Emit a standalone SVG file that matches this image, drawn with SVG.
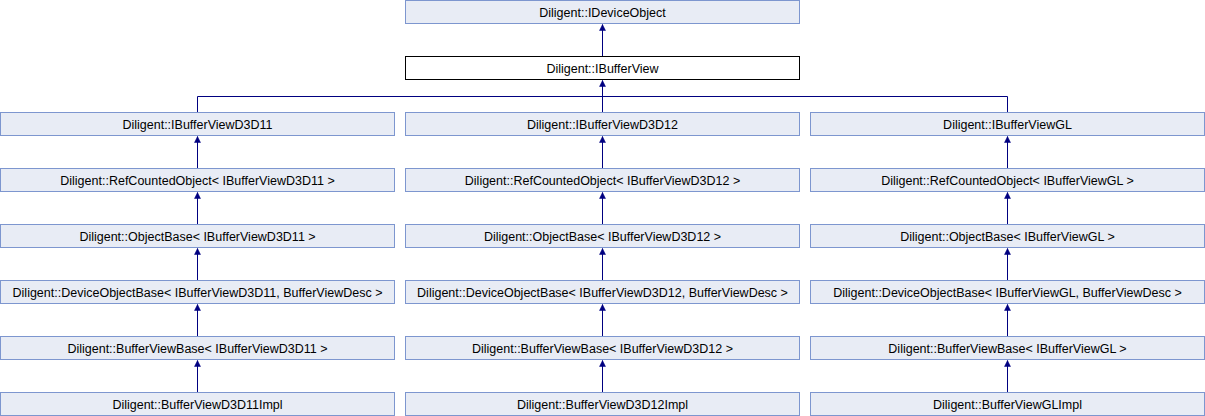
<svg xmlns="http://www.w3.org/2000/svg" width="1205" height="416" viewBox="0 0 1205 416">
<style>
.n rect{fill:#e8ecf5;stroke:#7d96cf;stroke-width:1}
.h rect{fill:#ffffff;stroke:#000000;stroke-width:1}
text{font-family:"Liberation Sans",Arial,sans-serif;font-size:12.5px;fill:#000;text-anchor:middle}
.e{stroke:#000080;stroke-width:1;fill:none}
</style>
<defs>
<marker id="a" markerWidth="6" markerHeight="7" refX="3" refY="0" orient="0" markerUnits="userSpaceOnUse" viewBox="0 0 6 7" overflow="visible">
<path d="M0,6 L3,0 L6,6 Z" fill="#000080" stroke="#000080" stroke-width="0.5"/>
</marker>
</defs>
<rect width="1205" height="416" fill="#ffffff"/>
<g id="connectors">
<path class="e" d="M602.5,56 V24.5" marker-end="url(#a)"/>
<path class="e" d="M602.5,112 V80.5" marker-end="url(#a)"/>
<path class="e" d="M197.5,112 V96.5 H1007.5 V112"/>
<path class="e" d="M197.5,168 V136.5" marker-end="url(#a)"/>
<path class="e" d="M602.5,168 V136.5" marker-end="url(#a)"/>
<path class="e" d="M1007.5,168 V136.5" marker-end="url(#a)"/>
<path class="e" d="M197.5,224 V192.5" marker-end="url(#a)"/>
<path class="e" d="M602.5,224 V192.5" marker-end="url(#a)"/>
<path class="e" d="M1007.5,224 V192.5" marker-end="url(#a)"/>
<path class="e" d="M197.5,280 V248.5" marker-end="url(#a)"/>
<path class="e" d="M602.5,280 V248.5" marker-end="url(#a)"/>
<path class="e" d="M1007.5,280 V248.5" marker-end="url(#a)"/>
<path class="e" d="M197.5,336 V304.5" marker-end="url(#a)"/>
<path class="e" d="M602.5,336 V304.5" marker-end="url(#a)"/>
<path class="e" d="M1007.5,336 V304.5" marker-end="url(#a)"/>
<path class="e" d="M197.5,392 V360.5" marker-end="url(#a)"/>
<path class="e" d="M602.5,392 V360.5" marker-end="url(#a)"/>
<path class="e" d="M1007.5,392 V360.5" marker-end="url(#a)"/>
</g>
<g id="IDeviceObject" class="n"><rect x="405.5" y="0.5" width="394" height="23"/><text x="602.5" y="16.5">Diligent::IDeviceObject</text></g>
<g id="IBufferView" class="h"><rect x="405.5" y="56.5" width="394" height="23"/><text x="602.5" y="72.5">Diligent::IBufferView</text></g>

<g id="IBufferViewD3D11" class="n"><rect x="0.5" y="112.5" width="394" height="23"/><text x="197.5" y="128.5">Diligent::IBufferViewD3D11</text></g>
<g id="IBufferViewD3D12" class="n"><rect x="405.5" y="112.5" width="394" height="23"/><text x="602.5" y="128.5">Diligent::IBufferViewD3D12</text></g>
<g id="IBufferViewGL" class="n"><rect x="810.5" y="112.5" width="394" height="23"/><text x="1007.5" y="128.5">Diligent::IBufferViewGL</text></g>

<g id="RefCountedD3D11" class="n"><rect x="0.5" y="168.5" width="394" height="23"/><text x="197.5" y="184.5">Diligent::RefCountedObject&lt; IBufferViewD3D11 &gt;</text></g>
<g id="RefCountedD3D12" class="n"><rect x="405.5" y="168.5" width="394" height="23"/><text x="602.5" y="184.5">Diligent::RefCountedObject&lt; IBufferViewD3D12 &gt;</text></g>
<g id="RefCountedGL" class="n"><rect x="810.5" y="168.5" width="394" height="23"/><text x="1007.5" y="184.5">Diligent::RefCountedObject&lt; IBufferViewGL &gt;</text></g>

<g id="ObjectBaseD3D11" class="n"><rect x="0.5" y="224.5" width="394" height="23"/><text x="197.5" y="240.5">Diligent::ObjectBase&lt; IBufferViewD3D11 &gt;</text></g>
<g id="ObjectBaseD3D12" class="n"><rect x="405.5" y="224.5" width="394" height="23"/><text x="602.5" y="240.5">Diligent::ObjectBase&lt; IBufferViewD3D12 &gt;</text></g>
<g id="ObjectBaseGL" class="n"><rect x="810.5" y="224.5" width="394" height="23"/><text x="1007.5" y="240.5">Diligent::ObjectBase&lt; IBufferViewGL &gt;</text></g>

<g id="DeviceObjectBaseD3D11" class="n"><rect x="0.5" y="280.5" width="394" height="23"/><text x="197.5" y="296.5">Diligent::DeviceObjectBase&lt; IBufferViewD3D11, BufferViewDesc &gt;</text></g>
<g id="DeviceObjectBaseD3D12" class="n"><rect x="405.5" y="280.5" width="394" height="23"/><text x="602.5" y="296.5">Diligent::DeviceObjectBase&lt; IBufferViewD3D12, BufferViewDesc &gt;</text></g>
<g id="DeviceObjectBaseGL" class="n"><rect x="810.5" y="280.5" width="394" height="23"/><text x="1007.5" y="296.5">Diligent::DeviceObjectBase&lt; IBufferViewGL, BufferViewDesc &gt;</text></g>

<g id="BufferViewBaseD3D11" class="n"><rect x="0.5" y="336.5" width="394" height="23"/><text x="197.5" y="352.5">Diligent::BufferViewBase&lt; IBufferViewD3D11 &gt;</text></g>
<g id="BufferViewBaseD3D12" class="n"><rect x="405.5" y="336.5" width="394" height="23"/><text x="602.5" y="352.5">Diligent::BufferViewBase&lt; IBufferViewD3D12 &gt;</text></g>
<g id="BufferViewBaseGL" class="n"><rect x="810.5" y="336.5" width="394" height="23"/><text x="1007.5" y="352.5">Diligent::BufferViewBase&lt; IBufferViewGL &gt;</text></g>

<g id="BufferViewD3D11Impl" class="n"><rect x="0.5" y="392.5" width="394" height="23"/><text x="197.5" y="408.5">Diligent::BufferViewD3D11Impl</text></g>
<g id="BufferViewD3D12Impl" class="n"><rect x="405.5" y="392.5" width="394" height="23"/><text x="602.5" y="408.5">Diligent::BufferViewD3D12Impl</text></g>
<g id="BufferViewGLImpl" class="n"><rect x="810.5" y="392.5" width="394" height="23"/><text x="1007.5" y="408.5">Diligent::BufferViewGLImpl</text></g>
</svg>
